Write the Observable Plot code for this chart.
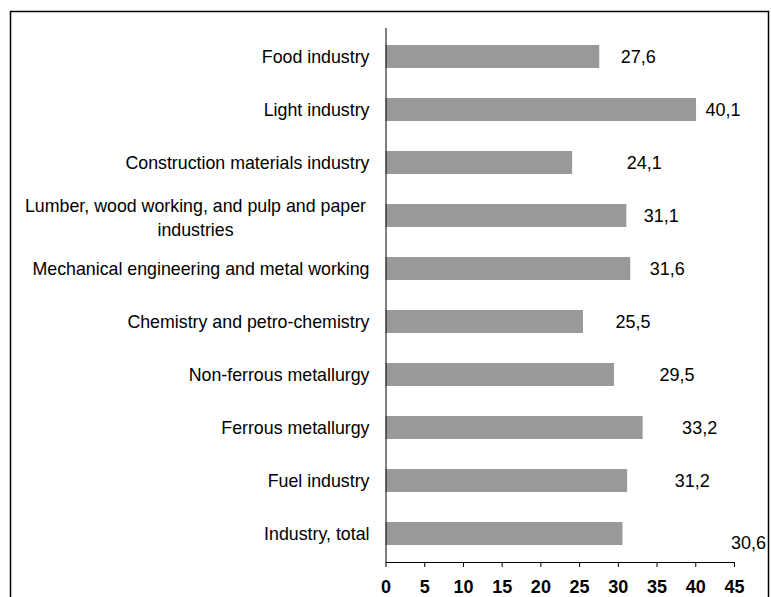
<!DOCTYPE html>
<html>
<head>
<meta charset="utf-8">
<script src="https://cdn.jsdelivr.net/npm/d3@7"></script>
<script src="https://cdn.jsdelivr.net/npm/@observablehq/plot@0.6"></script>
<style>
  html, body { margin: 0; padding: 0; background: #fff; overflow: hidden; }
  #chart { width: 771px; height: 597px; overflow: hidden; }
</style>
</head>
<body>
<div id="chart"></div>
<script>
const categories = [
  "Food industry",
  "Light industry",
  "Construction materials industry",
  "Lumber, wood working, and pulp and paper industries",
  "Mechanical engineering and metal working",
  "Chemistry and petro-chemistry",
  "Non-ferrous metallurgy",
  "Ferrous metallurgy",
  "Fuel industry",
  "Industry, total"
];
const values = [27.6, 40.1, 24.1, 31.1, 31.6, 25.5, 29.5, 33.2, 31.2, 30.6];
const xTicks = [0, 5, 10, 15, 20, 25, 30, 35, 40, 45];

// label nudges (style only, in pixels)
const labelDx = [21, 9, 54, 17, 19, 32, 45, 39, 47, 108];
const labelDy = [0, 0, 0, 0, 0, 0, 0, 0, 0, 9];

const rows = categories.map((c, i) => ({category: c, value: values[i], i}));
const fmt = v => String(v).replace(".", ",");
const wrapped = categories[3].replace(" industries", "\nindustries");

const chart = Plot.plot({
  width: 771,
  height: 597,
  marginLeft: 385.5,
  marginRight: 37,
  marginTop: 28,
  marginBottom: 35,
  style: {fontFamily: "'Liberation Sans', Arial, sans-serif", fontSize: "18px", color: "#000", background: "#fff"},
  x: {domain: [0, 45], ticks: xTicks, label: null},
  y: {domain: categories, paddingInner: 0.57, paddingOuter: 0.285, label: null},
  marks: [
    Plot.barX(rows, {x: "value", y: "category", fill: "#999999"}),
    Plot.ruleX([0], {stroke: "#000"}),
    Plot.frame({anchor: "bottom", stroke: "#000"}),
    Plot.axisX({ticks: xTicks, tickSize: 5, tickPadding: 13, fontWeight: "bold", fontSize: 18, stroke: "#000", label: null, tickFormat: d => String(d)}),
    Plot.axisY({tickSize: 0, tickPadding: 16.5, fontSize: 17.8, label: null, tickFormat: d => d === categories[3] ? "" : d}),
    Plot.text([categories[3]], {y: d => d, frameAnchor: "left", dx: -190.5, text: () => wrapped,
      textAnchor: "middle", lineAnchor: "middle", lineHeight: 1.4, fontSize: 17.8, fill: "#000"}),
    ...rows.map(r => Plot.text([r], {x: "value", y: "category", text: d => fmt(d.value),
      textAnchor: "start", dx: labelDx[r.i], dy: labelDy[r.i], fontSize: 18, fill: "#000"}))
  ]
});
// outer chart-area border (chart decoration)
const ns = "http://www.w3.org/2000/svg";
const border = document.createElementNS(ns, "path");
border.setAttribute("d", "M10.5,620V11.5H768.5V620");
border.setAttribute("fill", "none");
border.setAttribute("stroke", "#000");
border.setAttribute("stroke-width", "1.5");
chart.insertBefore(border, chart.firstChild.nextSibling);
document.getElementById("chart").appendChild(chart);
</script>
</body>
</html>
